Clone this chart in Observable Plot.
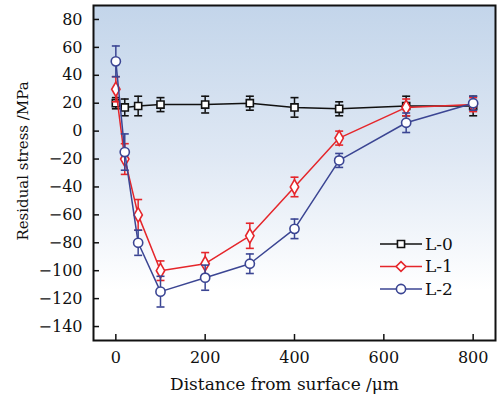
<!DOCTYPE html>
<html>
<head>
<meta charset="utf-8">
<script src="https://cdn.jsdelivr.net/npm/d3@7"></script>
<script src="https://cdn.jsdelivr.net/npm/@observablehq/plot@0.6"></script>
<style>
  body { margin: 0; background: #fff; }
  #chart { width: 500px; height: 400px; }
  #chart svg, #chart svg text { font-family: 'DejaVu Serif', serif; }
</style>
</head>
<body>
<div id="chart"></div>
<script>
// Distance from surface (µm)
const depth = [0, 20, 50, 100, 200, 300, 400, 500, 650, 800];

// Series names
const seriesNames = ["L-0", "L-1", "L-2"];

// Residual stress (MPa) and error bars (±MPa)
const stressL0 = [20, 17, 18, 19, 19, 20, 17, 16, 18, 18];
const errL0    = [4, 6, 7, 5, 6, 5, 7, 5, 7, 7];
const stressL1 = [30, -20, -60, -100, -95, -75, -40, -5, 17, 19];
const errL1    = [9, 11, 11, 7, 8, 9, 7, 5, 6, 5];
const stressL2 = [50, -15, -80, -115, -105, -95, -70, -21, 6, 20];
const errL2    = [11, 13, 9, 11, 9, 7, 7, 5, 7, 5];

// Tick labels
const xTicks = [0, 200, 400, 600, 800];
const yTicks = [-140, -120, -100, -80, -60, -40, -20, 0, 20, 40, 60, 80];

const colors = ["#111111", "#e5262b", "#3b4593"];
const symbols = ["square", "diamond", "circle"];
const radii = [4, 4.4, 4.6];

const stressAll = [stressL0, stressL1, stressL2];
const errAll = [errL0, errL1, errL2];

const seriesData = seriesNames.map((name, i) =>
  depth.map((d, j) => ({series: name, depth: d, stress: stressAll[i][j], err: errAll[i][j]}))
);

const capSymbol = {
  draw(ctx) { ctx.moveTo(-4, 0); ctx.lineTo(4, 0); }
};

const marks = [Plot.frame({fill: "white", stroke: "none"})];
seriesData.forEach((data, i) => {
  const c = colors[i];
  marks.push(
    Plot.ruleX(data, {x: "depth", y1: d => d.stress - d.err, y2: d => d.stress + d.err, stroke: c, strokeWidth: 1.5}),
    Plot.dot(data, {x: "depth", y: d => d.stress - d.err, symbol: capSymbol, fill: "none", stroke: c, strokeWidth: 1.6}),
    Plot.dot(data, {x: "depth", y: d => d.stress + d.err, symbol: capSymbol, fill: "none", stroke: c, strokeWidth: 1.6}),
    Plot.line(data, {x: "depth", y: "stress", stroke: c, strokeWidth: 1.5}),
    Plot.dot(data, {x: "depth", y: "stress", symbol: symbols[i], r: radii[i], fill: "white", stroke: c, strokeWidth: 1.6})
  );
});
marks.push(
  Plot.axisX(xTicks, {tickSize: -6, tickPadding: 17, fontSize: 16, strokeWidth: 1.5, label: null}),
  Plot.axisY(yTicks, {tickSize: -6, tickPadding: 17, fontSize: 16, strokeWidth: 1.5, label: null}),
  Plot.text(["Distance from surface /μm"], {frameAnchor: "bottom", dx: -10, dy: 44, lineAnchor: "middle", textAnchor: "middle", fontSize: 17, fill: "#111"}),
  Plot.text(["Residual stress /MPa"], {frameAnchor: "left", rotate: -90, dx: -70, dy: -12, lineAnchor: "middle", textAnchor: "middle", fontSize: 15, fill: "#111"}),
  Plot.frame({stroke: "#111", strokeWidth: 2})
);

const svg = Plot.plot({
  width: 500,
  height: 400,
  marginLeft: 93,
  marginRight: 5,
  marginTop: 5,
  marginBottom: 60,
  style: {background: "transparent", color: "#111"},
  x: {domain: [-50, 850]},
  y: {domain: [-150, 90]},
  marks
});

// background gradient for the plotting area
const sel = d3.select(svg);
const defs = sel.insert("defs", ":first-child");
const grad = defs.append("linearGradient").attr("id", "bgGrad")
  .attr("x1", 0).attr("y1", 0).attr("x2", 0).attr("y2", 1);
grad.append("stop").attr("offset", "0%").attr("stop-color", "#c3d5ea");
grad.append("stop").attr("offset", "45%").attr("stop-color", "#dfe8f4");
grad.append("stop").attr("offset", "85%").attr("stop-color", "#ffffff");
grad.append("stop").attr("offset", "100%").attr("stop-color", "#ffffff");
const firstFrame = svg.querySelector('[aria-label="frame"]');
const frameRect = firstFrame.tagName.toLowerCase() === "rect" ? firstFrame : firstFrame.querySelector("rect");
frameRect.setAttribute("fill", "url(#bgGrad)");

// legend inside the plot area
const symbolTypes = {square: d3.symbolSquare, diamond: d3.symbolDiamond2, circle: d3.symbolCircle};
const leg = sel.append("g").attr("font-size", 17).attr("fill", "#111").attr("text-anchor", "start");
seriesNames.forEach((name, i) => {
  const ly = 244 + i * 22.5;
  leg.append("line").attr("x1", 380).attr("x2", 422).attr("y1", ly).attr("y2", ly)
    .attr("stroke", colors[i]).attr("stroke-width", 1.5);
  leg.append("path")
    .attr("d", d3.symbol(symbolTypes[symbols[i]], Math.PI * radii[i] * radii[i])())
    .attr("transform", `translate(401,${ly})`)
    .attr("fill", "white").attr("stroke", colors[i]).attr("stroke-width", 1.6);
  leg.append("text").attr("x", 425).attr("y", ly).attr("dy", "0.35em").attr("text-anchor", "start").text(name);
});

document.getElementById("chart").appendChild(svg);
</script>
</body>
</html>
